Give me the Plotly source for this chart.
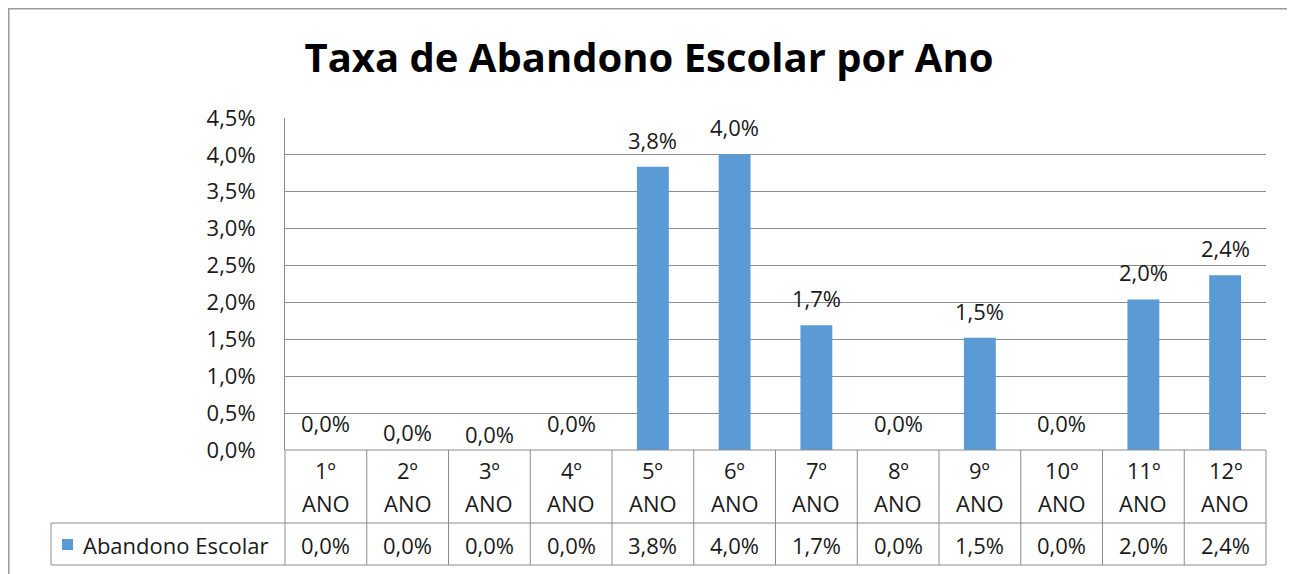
import plotly.graph_objects as go

# ── Data ────────────────────────────────────────────────────────────────────
YEARS = ["1º", "2º", "3º", "4º", "5º", "6º", "7º", "8º", "9º", "10º", "11º", "12º"]
ABANDONO = [0.0, 0.0, 0.0, 0.0, 0.0384, 0.0401, 0.0169, 0.0, 0.0152, 0.0, 0.0204, 0.0237]
SERIES_NAME = "Abandono Escolar"
TITLE = "Taxa de Abandono Escolar por Ano"

# ── Style ───────────────────────────────────────────────────────────────────
BAR_COLOR = "#5B9BD5"
GRID = "#8c8c8c"
TEXT = "#1a1a1a"
FONT = "Open Sans"
FS = 22
LABEL_SHIFT = [27, 18, 16, 27, 27, 27, 27, 27, 27, 27, 27, 27]

# page body has an 8px margin, so work in page pixels and subtract it
OFF = 8
W, H = 1295 - OFF, 574 - OFF
PL, PR, PT, PB = 285 - OFF, 1266 - OFF, 118 - OFF, 450 - OFF   # plot area


def px_x(p):
    return (p - OFF - PL) / (PR - PL)


def px_y(p):
    return (PB - (p - OFF)) / (PB - PT)


def pct(v):
    return f"{v * 100:.1f}%".replace(".", ",")


categories = [f"{y} ANO" for y in YEARS]

fig = go.Figure(go.Bar(
    x=categories,
    y=ABANDONO,
    marker=dict(color=BAR_COLOR, line=dict(width=0)),
    name=SERIES_NAME,
    showlegend=False,
))

annotations = []
# data labels above bars
for cat, v, s in zip(categories, ABANDONO, LABEL_SHIFT):
    annotations.append(dict(x=cat, y=v, xref="x", yref="y", text=pct(v),
                            showarrow=False, yanchor="middle", yshift=s,
                            font=dict(size=FS, color=TEXT, family=FONT)))

# data table below the axis
for cat, yr, v in zip(categories, YEARS, ABANDONO):
    for txt, ypx in ((yr, 470), ("ANO", 503), (pct(v), 545)):
        annotations.append(dict(x=cat, y=px_y(ypx), xref="x", yref="paper",
                                text=txt, showarrow=False, yanchor="middle",
                                font=dict(size=FS, color=TEXT, family=FONT)))

annotations.append(dict(x=px_x(81), y=px_y(545), xref="paper", yref="paper",
                        text=SERIES_NAME, showarrow=False, xanchor="left",
                        yanchor="middle",
                        font=dict(size=FS, color=TEXT, family=FONT)))

line = dict(color=GRID, width=1)
shapes = [
    # outer chart frame
    dict(type="rect", xref="paper", yref="paper",
         x0=px_x(OFF + 0.75), x1=px_x(1290), y0=px_y(OFF + 0.75), y1=px_y(590),
         line=dict(color="#9a9a9a", width=1.5), layer="below"),
    # table horizontals
    dict(type="line", xref="paper", yref="paper", x0=0, x1=1,
         y0=0, y1=0, line=line),
    dict(type="line", xref="paper", yref="paper", x0=px_x(51), x1=1,
         y0=px_y(523), y1=px_y(523), line=line),
    dict(type="line", xref="paper", yref="paper", x0=px_x(51), x1=1,
         y0=px_y(565), y1=px_y(565), line=line),
    dict(type="line", xref="paper", yref="paper", x0=px_x(51), x1=px_x(51),
         y0=px_y(523), y1=px_y(565), line=line),
    # legend key
    dict(type="rect", xref="paper", yref="paper",
         x0=px_x(62), x1=px_x(73), y0=px_y(550), y1=px_y(539),
         fillcolor=BAR_COLOR, line=dict(width=0)),
]
n = len(categories)
for k in range(n + 1):
    shapes.append(dict(type="line", xref="paper", yref="paper",
                       x0=k / n, x1=k / n, y0=0, y1=px_y(565), line=line))

fig.update_layout(
    width=W, height=H,
    margin=dict(l=PL, r=W - PR, t=PT, b=H - PB),
    paper_bgcolor="white", plot_bgcolor="white",
    separators=",.",
    bargap=0.61,
    title=dict(text=f"<b>{TITLE}</b>", x=(649 - OFF) / W, y=1 - (58 - OFF) / H,
               xanchor="center", yanchor="middle", xref="container",
               yref="container",
               font=dict(size=40, color="#000000", family=FONT)),
    xaxis=dict(showticklabels=False, showgrid=False, zeroline=False,
               showline=False, ticks="", range=[-0.5, n - 0.5]),
    yaxis=dict(range=[0, 0.045], dtick=0.005, tickformat=".1%",
               showgrid=True, gridcolor=GRID, gridwidth=1,
               zeroline=False, showline=True, linecolor=GRID, linewidth=1,
               ticks="", ticklabelstandoff=24,
               tickfont=dict(size=FS, color=TEXT, family=FONT)),
    annotations=annotations,
    shapes=shapes,
    showlegend=False,
)

fig.write_html("out.html")
